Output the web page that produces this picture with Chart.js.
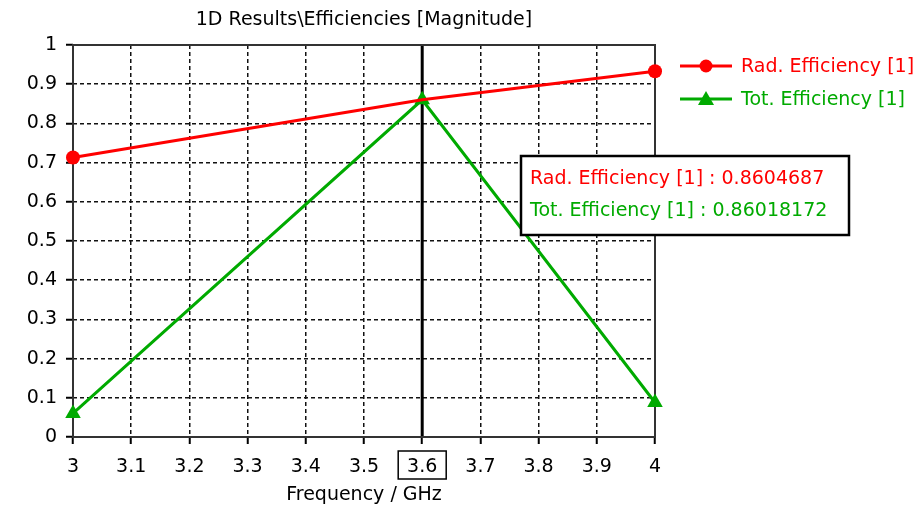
<!DOCTYPE html>
<html>
<head>
<meta charset="utf-8">
<script src="https://cdn.jsdelivr.net/npm/chart.js@4.4.1/dist/chart.umd.min.js"></script>
<style>
  html, body { margin: 0; padding: 0; background: #fff; }
  #wrap { width: 924px; height: 511px; }
</style>
</head>
<body>
<div id="wrap"><canvas id="effChart" width="924" height="511"></canvas></div>
<script>
// frequency samples (GHz)
const frequencies = [3, 3.6, 4];
// efficiencies [1]
const radEfficiency = [0.713, 0.8604687, 0.933];
const totEfficiency = [0.06, 0.86018172, 0.088];
const seriesNames = ['Rad. Efficiency [1]', 'Tot. Efficiency [1]'];
const markerFreq = 3.6;
const markerIndex = 1;

const RED = '#ff0000';
const GREEN = '#00aa00';
const FONT = '"DejaVu Sans", Verdana, sans-serif';
const FSIZE = 19;

function toPoints(ys) {
  return frequencies.map((f, i) => ({ x: f, y: ys[i] }));
}

const fmt = v => String(Number(v.toFixed(1)));

// frame, marker line, title, legend and readout box
const decorPlugin = {
  id: 'decor',
  beforeDatasetsDraw(chart) {
    const { ctx, chartArea: a, scales } = chart;
    const xm = scales.x.getPixelForValue(markerFreq);
    ctx.save();
    ctx.strokeStyle = '#000';
    ctx.lineWidth = 3;
    ctx.beginPath();
    ctx.moveTo(xm, a.top);
    ctx.lineTo(xm, a.bottom);
    ctx.stroke();
    ctx.strokeStyle = '#333';
    ctx.lineWidth = 2;
    ctx.strokeRect(a.left, a.top, a.right - a.left, a.bottom - a.top);
    ctx.restore();
  },
  afterDatasetsDraw(chart) {
    const { ctx, chartArea: a, scales } = chart;
    ctx.save();
    // title
    ctx.fillStyle = '#000';
    ctx.font = FSIZE + 'px ' + FONT;
    ctx.textAlign = 'center';
    ctx.textBaseline = 'middle';
    ctx.fillText('1D Results\\Efficiencies [Magnitude]', (a.left + a.right) / 2, 20);
    // x axis title
    ctx.fillText('Frequency / GHz', (a.left + a.right) / 2, 495);
    // boxed tick label
    const xm = scales.x.getPixelForValue(markerFreq);
    ctx.strokeStyle = '#000';
    ctx.lineWidth = 1.5;
    ctx.strokeRect(xm - 24, 451, 48, 28);

    // legend
    const legendY = [66, 99];
    const colors = [RED, GREEN];
    ctx.textAlign = 'left';
    legendY.forEach((y, i) => {
      ctx.strokeStyle = colors[i];
      ctx.fillStyle = colors[i];
      ctx.lineWidth = 3;
      ctx.beginPath();
      ctx.moveTo(680, y);
      ctx.lineTo(732, y);
      ctx.stroke();
      ctx.beginPath();
      if (i === 0) {
        ctx.arc(706, y, 6.5, 0, Math.PI * 2);
      } else {
        ctx.moveTo(706, y - 8);
        ctx.lineTo(714, y + 6);
        ctx.lineTo(698, y + 6);
        ctx.closePath();
      }
      ctx.fill();
      ctx.fillText(seriesNames[i], 741, y + 1);
    });

    // readout box
    const bx = 521, by = 156, bw = 328, bh = 79;
    ctx.fillStyle = '#fff';
    ctx.fillRect(bx, by, bw, bh);
    ctx.strokeStyle = '#000';
    ctx.lineWidth = 2.5;
    ctx.strokeRect(bx, by, bw, bh);
    ctx.fillStyle = RED;
    ctx.fillText(seriesNames[0] + ' : ' + radEfficiency[markerIndex], 530, 179);
    ctx.fillStyle = GREEN;
    ctx.fillText(seriesNames[1] + ' : ' + totEfficiency[markerIndex], 530, 211);
    ctx.restore();
  }
};

const gridOpts = {
  color: '#111',
  lineWidth: 1.5,
  tickLength: 7,
  tickColor: '#000',
  tickWidth: 2,
  tickBorderDash: [],
};

const ctx = document.getElementById('effChart').getContext('2d');
new Chart(ctx, {
  type: 'line',
  data: {
    datasets: [
      {
        label: seriesNames[0],
        data: toPoints(radEfficiency),
        borderColor: RED,
        backgroundColor: RED,
        borderWidth: 3,
        pointStyle: 'circle',
        pointRadius: [7, 0, 7],
        pointBorderWidth: 0,
        clip: false,
      },
      {
        label: seriesNames[1],
        data: toPoints(totEfficiency),
        borderColor: GREEN,
        backgroundColor: GREEN,
        borderWidth: 3,
        pointStyle: 'triangle',
        pointRadius: 9,
        pointBorderWidth: 0,
        clip: false,
      },
    ],
  },
  options: {
    responsive: false,
    animation: false,
    events: [],
    layout: { padding: { top: 45, right: 269, left: 0, bottom: 0 } },
    plugins: {
      legend: { display: false },
      title: { display: false },
      tooltip: { enabled: false },
    },
    scales: {
      x: {
        type: 'linear',
        min: 3,
        max: 4,
        afterFit: s => { s.height = 74; },
        ticks: {
          stepSize: 0.1,
          color: '#000',
          font: { family: FONT, size: FSIZE },
          padding: 12,
          maxRotation: 0,
          callback: v => fmt(v),
        },
        grid: gridOpts,
        border: { display: false, dash: [4, 3] },
      },
      y: {
        min: 0,
        max: 1,
        afterFit: s => { s.width = 73; },
        ticks: {
          stepSize: 0.1,
          color: '#000',
          font: { family: FONT, size: FSIZE },
          padding: 9,
          callback: v => fmt(v),
        },
        grid: gridOpts,
        border: { display: false, dash: [4, 3] },
      },
    },
  },
  plugins: [decorPlugin],
});
</script>
</body>
</html>
